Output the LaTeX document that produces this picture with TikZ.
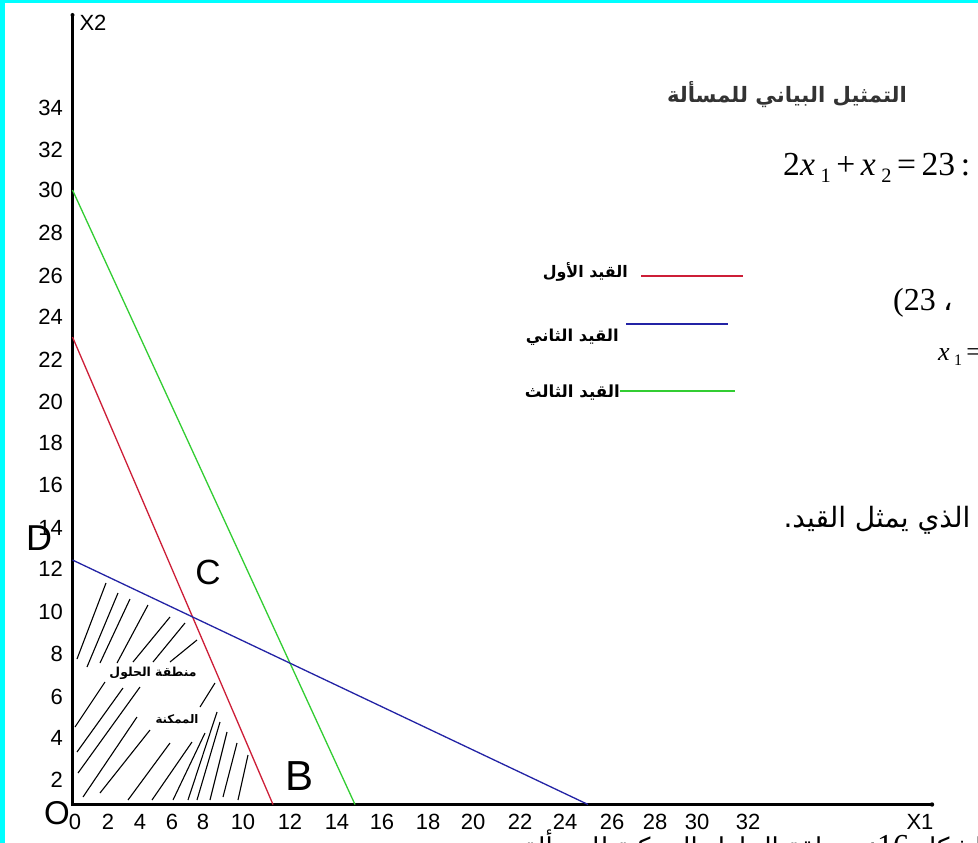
\documentclass[tikz,border=0pt]{standalone}
\usepackage{fontspec}
\usepackage{graphicx}
\setmainfont{Liberation Serif}
\newfontfamily\arab[Script=Arabic]{DejaVu Sans}
\newfontfamily\lsans{Liberation Sans}
\TeXXeTstate=1
\definecolor{cred}{RGB}{205,30,55}
\definecolor{cblue}{RGB}{35,35,165}
\definecolor{cgreen}{RGB}{50,205,50}
\definecolor{bord}{RGB}{0,255,255}
\newcommand\tickfont{\lsans\fontsize{22}{22}\selectfont}
\begin{document}
\begin{tikzpicture}[x=1pt,y=-1pt,
  ticklab/.style={font=\tickfont, inner sep=0pt},
  bigletter/.style={font=\lsans\fontsize{#1}{#1}\selectfont, inner sep=0pt},
  axisline/.style={line width=3.2pt, black},
  constr/.style={line width=1.3pt},
  hatchline/.style={line width=1.1pt, black},
  artxt/.style={inner sep=0pt}]
\useasboundingbox (0,0) rectangle (978,843);
\fill[white] (0,0) rectangle (978,843);
\fill[bord] (0,0) rectangle (5,843);
\fill[bord] (0,0) rectangle (978,3);

% axes
\coordinate (O) at (72.5,804.5);
\coordinate (Ytop) at (72.5,15);
\coordinate (Xend) at (932,804.5);
\draw[axisline] (Ytop) -- (O) -- (Xend);
\fill (Ytop) circle (2);
\fill (Xend) circle (2.2);

% constraint lines
\coordinate (R1) at (72.5,337); \coordinate (R2) at (273,804.5);
\coordinate (G1) at (72.5,190); \coordinate (G2) at (355,804.5);
\coordinate (B1) at (72.5,560); \coordinate (B2) at (588,804.5);
\draw[constr, cgreen] (G1) -- (G2);
\draw[constr, cred] (R1) -- (R2);
\draw[constr, cblue] (B1) -- (B2);

% hatching
\foreach \a/\b/\c/\d in {
  106/583/77/659, 118/593/87/667, 130/599/100/663, 148/605/117/663,
  170/617/133/662, 185/623/153/662, 197/640/170/662,
  105/682/75/727, 123/688/77/752, 140/687/78/773, 137/717/83/797,
  150/730/100/793, 170/743/128/800,
  215/683/200/707, 192/742/152/800, 205/733/173/800, 217/712/188/800,
  220/722/197/800, 227/732/210/800, 237/743/223/797, 248/755/238/800}
  \draw[hatchline] (\a,\b) -- (\c,\d);

% y tick labels
\foreach \v/\y in {34/108,32/150,30/190,28/233,26/276,24/317,22/360,20/402,
  18/443,16/485,14/528,12/569,10/612,8/654,6/697,4/738,2/780}
  \node[ticklab, anchor=east] at (63,\y) {\v};
% x tick labels
\foreach \v/\x in {0/75,2/108,4/140,6/172,8/203,10/243,12/290,14/337,16/382,
  18/428,20/473,22/520,24/565,26/612,28/655,30/697,32/748}
  \node[ticklab] at (\x,822) {\v};
\node[ticklab] (x2lab) at (93,23) {X2};
\node[ticklab] (x1lab) at (920,822) {X1};

% point letters
\node[bigletter=36] (D) at (39,538) {D};
\node[bigletter=35] (C) at (208,572) {C};
\node[bigletter=42] (B) at (300,776) {B};
\node[bigletter=33] (Olab) at (57,813) {O};

% region text
\node[artxt] (reg1) at (153,673) {\resizebox{87pt}{!}{\arab\bfseries\beginR منطقة الحلول\endR}};
\node[artxt] (reg2) at (177,719) {\resizebox{43pt}{!}{\arab\bfseries\beginR الممكنة\endR}};

% legend
\coordinate (L1a) at (641,276); \coordinate (L1b) at (743,276);
\coordinate (L2a) at (626,324); \coordinate (L2b) at (728,324);
\coordinate (L3a) at (620,391); \coordinate (L3b) at (735,391);
\draw[constr, cred] (L1a) -- (L1b);
\draw[constr, cblue] (L2a) -- (L2b);
\draw[constr, cgreen] (L3a) -- (L3b);
\node[artxt, anchor=east] (lg1) at (628,272) {\resizebox{85pt}{!}{\arab\bfseries\beginR القيد الأول\endR}};
\node[artxt, anchor=east] (lg2) at (619,337) {\resizebox{93pt}{!}{\arab\bfseries\beginR القيد الثاني\endR}};
\node[artxt, anchor=east] (lg3) at (620,393) {\resizebox{95pt}{!}{\arab\bfseries\beginR القيد الثالث\endR}};

% title
\node[artxt, text=black!80] (title) at (787,95) {\resizebox{240pt}{!}{\arab\bfseries\beginR التمثيل البياني للمسألة\endR}};

% equation
\node[artxt, anchor=base west] (eq) at (783,175) {\resizebox{187pt}{!}{\fontsize{28}{28}\selectfont 2\textit{x}\,\raisebox{-6pt}{\fontsize{17}{17}\selectfont 1}\,+\,\textit{x}\,\raisebox{-6pt}{\fontsize{17}{17}\selectfont 2}\,=\,23\,:}};

% partial texts on the right
\node[artxt, anchor=base west] (p23) at (893,310) {\fontsize{32}{32}\selectfont (23 {\arab\fontsize{30}{30}\selectfont ،}};
\node[artxt, anchor=base west] (px1) at (938,360) {\fontsize{26}{26}\selectfont\textit{x}\,\raisebox{-5pt}{\fontsize{16}{16}\selectfont 1}\,=};
\node[artxt, anchor=east] (pline) at (992,520) {\arab\fontsize{28}{28}\selectfont\beginR د الذي يمثل القيد.\endR};

% caption cut at the bottom
\node[artxt, anchor=base east] (cap) at (990,856) {\arab\fontsize{26}{26}\selectfont\beginR الشكل \beginL{\rmfamily\fontsize{32}{32}\selectfont 16}\endL: منطقة الحلول الممكنة للمسألة\endR};
\end{tikzpicture}
\end{document}
